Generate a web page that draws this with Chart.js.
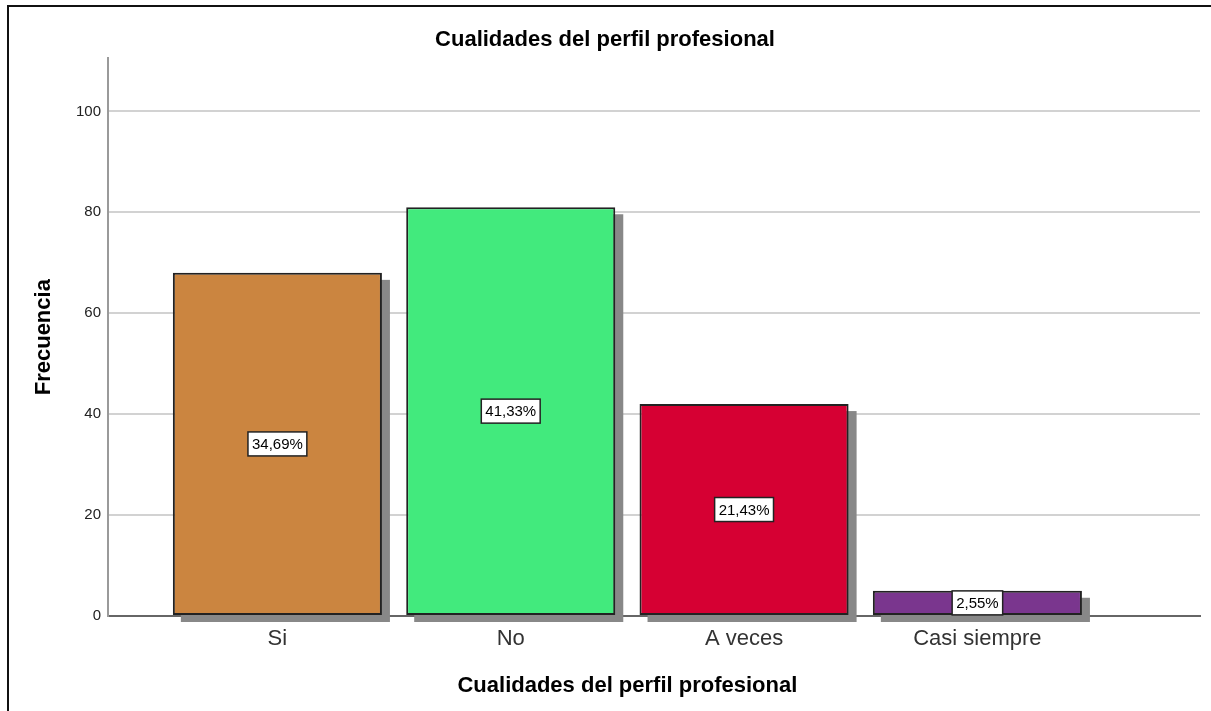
<!DOCTYPE html>
<html>
<head>
<meta charset="utf-8">
<script src="https://cdn.jsdelivr.net/npm/chart.js@4/dist/chart.umd.min.js"></script>
<style>
	html, body { margin: 0; padding: 0; background: #fff; }
	#chart { position: absolute; left: 0; top: 0; }
	#frame {
		position: absolute; left: 7px; top: 5px; width: 1204px; height: 706px;
		border-left: 2px solid #111; border-top: 2px solid #111; pointer-events: none;
	}
</style>
</head>
<body>
<canvas id="chart" width="1211" height="711"></canvas>
<div id="frame"></div>
<script>
const categories = ['Si', 'No', 'A veces', 'Casi siempre'];
const frequencies = [68, 81, 42, 5];
const barColors = ['#CB8540', '#42EA7D', '#D60033', '#7A368E'];
const yTicks = [0, 20, 40, 60, 80, 100];

const total = frequencies.reduce((a, b) => a + b, 0);
const pctLabels = frequencies.map(v => (v / total * 100).toFixed(2).replace('.', ',') + '%');

const ctx = document.getElementById('chart').getContext('2d');
const FONT = "'Liberation Sans', Arial, sans-serif";

// gray drop shadow behind each bar, taken from the bar elements
const shadowPlugin = {
	id: 'shadow',
	beforeDatasetsDraw(chart) {
		const c = chart.ctx;
		c.save();
		c.fillStyle = '#888888';
		chart.getDatasetMeta(0).data.forEach(bar => {
			const p = bar.getProps(['x', 'y', 'base', 'width'], true);
			c.fillRect(p.x - p.width / 2 + 8, p.y + 7, p.width, p.base - p.y);
		});
		c.restore();
	}
};

// percentage boxes in the middle of the bars + x axis title
const labelPlugin = {
	id: 'labels',
	afterDatasetsDraw(chart) {
		const c = chart.ctx;
		c.save();
		c.font = '15px ' + FONT;
		c.textAlign = 'center';
		c.textBaseline = 'middle';
		chart.getDatasetMeta(0).data.forEach((bar, i) => {
			const p = bar.getProps(['x', 'y', 'base'], true);
			const cy = (p.y + p.base) / 2;
			const w = c.measureText(pctLabels[i]).width + 8;
			const h = 24;
			c.fillStyle = '#fff';
			c.fillRect(p.x - w / 2, cy - h / 2, w, h);
			c.strokeStyle = '#222';
			c.lineWidth = 1.5;
			c.strokeRect(p.x - w / 2, cy - h / 2, w, h);
			c.fillStyle = '#000';
			c.fillText(pctLabels[i], p.x, cy + 1);
		});
		const xs = chart.scales.x;
		c.font = 'bold 22px ' + FONT;
		c.fillStyle = '#000';
		c.fillText('Cualidades del perfil profesional', xs.getPixelForValue(1.5), 686);
		c.restore();
	}
};

const chart = new Chart(ctx, {
	type: 'bar',
	data: {
		datasets: [{
			label: 'Frecuencia',
			data: categories.map((c, i) => ({ x: i, y: frequencies[i] })),
			backgroundColor: barColors,
			borderColor: '#222',
			borderWidth: 2,
			borderSkipped: false,
			categoryPercentage: 1,
			barPercentage: 0.896
		}]
	},
	options: {
		responsive: false,
		animation: false,
		devicePixelRatio: 1,
		layout: { padding: { left: 10, right: 11, top: 0, bottom: 0 } },
		plugins: {
			legend: { display: false },
			tooltip: { enabled: false },
			title: {
				display: true,
				text: 'Cualidades del perfil profesional',
				color: '#000',
				font: { family: FONT, size: 22, weight: 'bold' },
				padding: { top: 27, bottom: 5 }
			}
		},
		scales: {
			x: {
				type: 'linear',
				offset: false,
				min: -0.726,
				max: 3.954,
				grid: { display: false },
				border: { color: '#666', width: 2 },
				afterBuildTicks: axis => { axis.ticks = categories.map((c, i) => ({ value: i })); },
				afterFit: axis => { axis.height = 95; },
				ticks: {
					autoSkip: false,
					maxRotation: 0,
					padding: 2,
					color: '#333',
					font: { family: FONT, size: 22 },
					callback: value => categories[value]
				}
			},
			y: {
				min: 0,
				max: 110.5,
				afterBuildTicks: axis => { axis.ticks = yTicks.map(v => ({ value: v })); },
				afterFit: axis => { axis.width = 98; },
				grid: { color: '#d2d2d2', lineWidth: 2, drawTicks: false },
				border: { color: '#9a9a9a', width: 2 },
				ticks: {
					padding: 7,
					color: '#222',
					font: { family: FONT, size: 15 }
				},
				title: {
					display: true,
					text: 'Frecuencia',
					color: '#000',
					font: { family: FONT, size: 22, weight: 'bold' },
					padding: { top: 21, bottom: 0 }
				}
			}
		}
	},
	plugins: [shadowPlugin, labelPlugin]
});
</script>
</body>
</html>
